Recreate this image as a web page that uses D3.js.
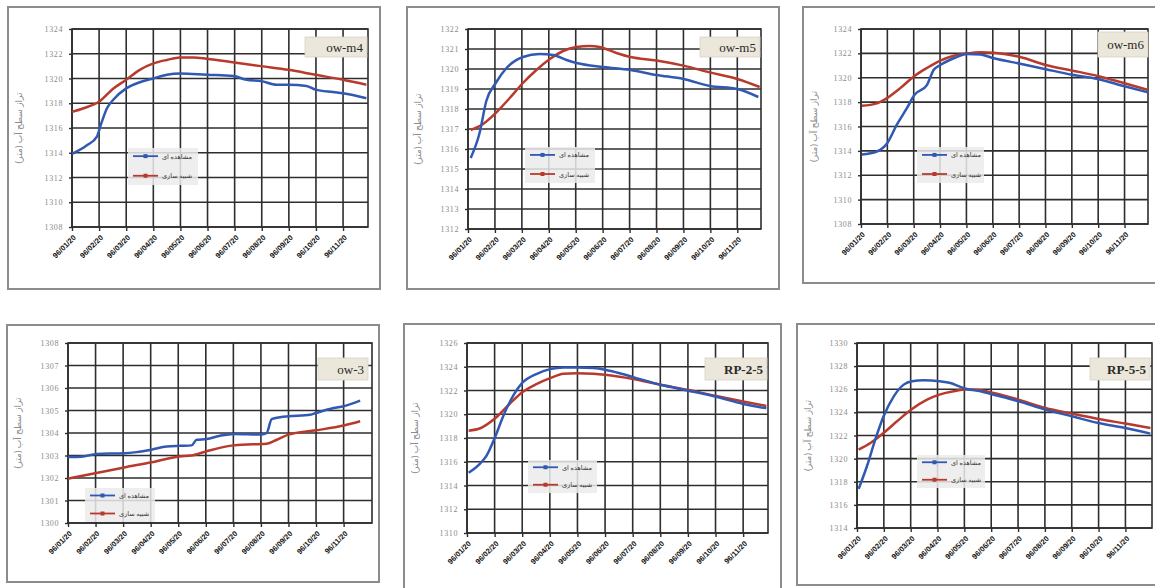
<!DOCTYPE html>
<html>
<head>
<meta charset="utf-8">
<script src="https://cdn.jsdelivr.net/npm/d3@7"></script>
<style>
  body { margin: 0; background: #fff; }
  svg { display: block; }
</style>
</head>
<body>
<svg id="chart" width="1155" height="588"></svg>
<script>
// Tick labels shared by every panel (Persian calendar dates)
const dateLabels = ["96/01/20", "96/02/20", "96/03/20", "96/04/20", "96/05/20", "96/06/20",
                    "96/07/20", "96/08/20", "96/09/20", "96/10/20", "96/11/20"];
const seriesNames = ["مشاهده ای", "شبیه سازی"];
const yAxisTitle = "تراز سطح آب (متر)";
const wellNames = ["ow-m4", "ow-m5", "ow-m6", "ow-3", "RP-2-5", "RP-5-5"];

// Time in months from 96/01/20, and water level (m) — observed / simulated
const owM4ObsT = [0, 0.55, 0.92, 1.04, 1.29, 1.53, 2.0, 2.5, 2.98, 3.5, 3.99, 4.97, 5.95, 6.44, 6.97, 7.55, 7.99, 8.65, 8.98, 9.63, 10.0, 10.86];
const owM4Obs  = [1313.9, 1314.6, 1315.3, 1316.1, 1317.6, 1318.3, 1319.2, 1319.7, 1320.0, 1320.3, 1320.4, 1320.3, 1320.2, 1319.9, 1319.8, 1319.5, 1319.5, 1319.4, 1319.1, 1318.9, 1318.8, 1318.4];
const owM4SimT = [0, 0.43, 0.98, 1.53, 2.0, 2.5, 2.98, 3.5, 3.99, 4.48, 4.97, 5.99, 6.97, 7.99, 8.98, 10.0, 10.86];
const owM4Sim  = [1317.3, 1317.6, 1318.1, 1319.2, 1319.9, 1320.7, 1321.2, 1321.5, 1321.7, 1321.7, 1321.6, 1321.3, 1321.0, 1320.7, 1320.3, 1319.9, 1319.5];

const owM5ObsT = [0.1, 0.43, 0.68, 1.03, 1.43, 2.04, 2.66, 3.16, 3.66, 4.03, 5.04, 6.03, 7.0, 8.0, 8.98, 10.0, 10.78];
const owM5Obs  = [1315.55, 1316.8, 1318.4, 1319.3, 1320.05, 1320.6, 1320.75, 1320.7, 1320.45, 1320.3, 1320.1, 1319.95, 1319.7, 1319.5, 1319.15, 1319.0, 1318.6];
const owM5SimT = [0.1, 0.56, 1.03, 1.55, 2.04, 2.54, 3.04, 3.53, 4.03, 4.52, 4.89, 5.51, 6.03, 7.0, 8.0, 8.98, 10.0, 10.83];
const owM5Sim  = [1316.95, 1317.25, 1317.8, 1318.55, 1319.3, 1319.95, 1320.5, 1320.9, 1321.1, 1321.15, 1321.1, 1320.8, 1320.6, 1320.43, 1320.17, 1319.83, 1319.5, 1319.1];

const owM6ObsT = [0.03, 0.6, 1.0, 1.36, 1.74, 2.03, 2.5, 2.76, 3.01, 3.52, 4.03, 4.54, 5.04, 6.04, 7.01, 8.0, 8.98, 10.0, 10.89];
const owM6Obs  = [1313.7, 1313.95, 1314.65, 1316.15, 1317.5, 1318.6, 1319.4, 1320.65, 1321.05, 1321.6, 1321.95, 1321.9, 1321.6, 1321.15, 1320.7, 1320.25, 1319.9, 1319.3, 1318.8];
const owM6SimT = [0.03, 0.6, 1.0, 1.49, 2.03, 2.5, 3.01, 3.52, 4.03, 4.54, 5.04, 6.04, 7.01, 8.0, 8.98, 10.0, 10.89];
const owM6Sim  = [1317.7, 1317.9, 1318.35, 1319.15, 1320.15, 1320.8, 1321.4, 1321.8, 1322.0, 1322.1, 1322.05, 1321.7, 1321.05, 1320.6, 1320.15, 1319.55, 1319.0];

const ow3ObsT = [0, 0.55, 1.03, 2.04, 2.48, 3.03, 3.58, 4.06, 4.48, 4.67, 5.03, 5.52, 6.02, 7.03, 7.21, 7.39, 7.7, 8.0, 8.79, 9.0, 9.64, 10.0, 10.6];
const ow3Obs  = [1302.93, 1302.96, 1303.07, 1303.1, 1303.15, 1303.26, 1303.4, 1303.43, 1303.45, 1303.7, 1303.73, 1303.88, 1303.96, 1303.93, 1304.0, 1304.62, 1304.7, 1304.74, 1304.81, 1304.89, 1305.11, 1305.19, 1305.44];
const ow3SimT = [0, 1.03, 2.04, 3.03, 4.04, 4.48, 5.03, 6.02, 7.03, 7.21, 7.58, 8.0, 9.0, 10.0, 10.6];
const ow3Sim  = [1301.97, 1302.22, 1302.47, 1302.7, 1302.96, 1303.0, 1303.19, 1303.45, 1303.51, 1303.52, 1303.7, 1303.93, 1304.12, 1304.33, 1304.52];

const rp25ObsT = [0.06, 0.48, 0.72, 1.02, 1.33, 1.69, 1.99, 2.53, 3.01, 3.49, 3.98, 4.58, 5.0, 5.42, 6.02, 7.01, 7.98, 8.98, 10.0, 10.84];
const rp25Obs  = [1315.07, 1315.86, 1316.56, 1318.1, 1319.94, 1321.63, 1322.62, 1323.41, 1323.8, 1323.94, 1323.94, 1323.89, 1323.75, 1323.52, 1323.13, 1322.48, 1322.0, 1321.49, 1320.87, 1320.5];
const rp25SimT = [0.06, 0.48, 1.02, 1.57, 1.99, 2.53, 3.01, 3.49, 3.98, 4.58, 5.0, 6.02, 7.01, 7.98, 8.98, 10.0, 10.84];
const rp25Sim  = [1318.62, 1318.82, 1319.66, 1320.93, 1321.83, 1322.56, 1323.04, 1323.41, 1323.46, 1323.41, 1323.32, 1322.96, 1322.48, 1322.06, 1321.55, 1321.07, 1320.7];

const rp55ObsT = [0.06, 0.37, 0.68, 0.99, 1.37, 1.74, 2.05, 2.48, 3.07, 3.48, 3.85, 4.1, 4.6, 5.09, 6.02, 7.02, 8.01, 9.0, 10.0, 10.93];
const rp55Obs  = [1317.38, 1319.34, 1321.64, 1323.66, 1325.39, 1326.4, 1326.69, 1326.77, 1326.69, 1326.54, 1326.2, 1326.02, 1325.82, 1325.53, 1324.96, 1324.24, 1323.66, 1323.08, 1322.65, 1322.16];
const rp55SimT = [0.06, 0.5, 0.99, 1.49, 2.05, 2.61, 3.07, 3.6, 4.1, 4.6, 5.09, 6.02, 7.02, 8.01, 9.0, 10.0, 10.93];
const rp55Sim  = [1320.78, 1321.35, 1322.22, 1323.23, 1324.29, 1325.1, 1325.53, 1325.82, 1325.97, 1325.91, 1325.68, 1325.1, 1324.38, 1323.89, 1323.43, 1323.03, 1322.65];

// Y-axis tick values for each well
const owM4Ticks = d3.range(1308, 1325, 2);
const owM5Ticks = d3.range(1312, 1323, 1);
const owM6Ticks = d3.range(1308, 1325, 2);
const ow3Ticks  = d3.range(1300, 1309, 1);
const rp25Ticks = d3.range(1310, 1327, 2);
const rp55Ticks = d3.range(1314, 1331, 2);

const zip = (t, v) => t.map((d, i) => ({ t: d, v: v[i] }));

// Panel layout: outer frame, plot area, end of time axis, title badge and legend box
const panels = [
  { name: wellNames[0], ticks: owM4Ticks, obs: zip(owM4ObsT, owM4Obs), sim: zip(owM4SimT, owM4Sim),
    frame: [8, 7, 380, 289], plot: [72, 29, 368, 227], tMax: 10.92,
    badge: [305, 37, 367, 57], legend: [128, 148, 198, 185] },
  { name: wellNames[1], ticks: owM5Ticks, obs: zip(owM5ObsT, owM5Obs), sim: zip(owM5SimT, owM5Sim),
    frame: [407, 7, 779, 289], plot: [468, 29, 761, 229], tMax: 10.88,
    badge: [700, 37, 760, 57], legend: [525, 147, 595, 183] },
  { name: wellNames[2], ticks: owM6Ticks, obs: zip(owM6ObsT, owM6Obs), sim: zip(owM6SimT, owM6Sim),
    frame: [803, 7, 1162, 283], plot: [861, 29, 1148, 224], tMax: 10.89,
    badge: [1098, 32, 1148, 57], legend: [917, 147, 984, 183] },
  { name: wellNames[3], ticks: ow3Ticks, obs: zip(ow3ObsT, ow3Obs), sim: zip(ow3SimT, ow3Sim),
    frame: [7, 325, 379, 582], plot: [68, 343, 372, 523], tMax: 11.03,
    badge: [318, 358, 368, 380], legend: [85, 488, 155, 522] },
  { name: wellNames[4], ticks: rp25Ticks, obs: zip(rp25ObsT, rp25Obs), sim: zip(rp25SimT, rp25Sim),
    frame: [404, 324, 781, 592], plot: [467, 343, 768, 533], tMax: 10.9,
    badge: [705, 358, 767, 380], legend: [528, 460, 597, 493] },
  { name: wellNames[5], ticks: rp55Ticks, obs: zip(rp55ObsT, rp55Obs), sim: zip(rp55SimT, rp55Sim),
    frame: [797, 324, 1162, 585], plot: [857, 343, 1152, 528], tMax: 10.99,
    badge: [1090, 358, 1150, 380], legend: [917, 455, 985, 488] }
];

const colObs = "#3159b3";
const colSim = "#b83a2c";
const gridCol = "#2e2e2e";

const svg = d3.select("#chart");

panels.forEach(p => {
  const [fx0, fy0, fx1, fy1] = p.frame;
  const [px0, py0, px1, py1] = p.plot;
  const g = svg.append("g");

  g.append("rect")
    .attr("x", fx0).attr("y", fy0).attr("width", fx1 - fx0).attr("height", fy1 - fy0)
    .attr("fill", "#fff").attr("stroke", "#8c8c8c").attr("stroke-width", 2);

  const x = d3.scaleLinear().domain([0, p.tMax]).range([px0, px1]);
  const y = d3.scaleLinear().domain([p.ticks[0], p.ticks[p.ticks.length - 1]]).range([py1, py0]);
  const monthTicks = d3.range(dateLabels.length);

  // grid
  g.append("g").selectAll("line").data(monthTicks).join("line")
    .attr("x1", d => x(d)).attr("x2", d => x(d)).attr("y1", py0).attr("y2", py1)
    .attr("stroke", gridCol).attr("stroke-width", 1.6);
  g.append("g").selectAll("line").data(p.ticks).join("line")
    .attr("x1", px0).attr("x2", px1).attr("y1", d => y(d)).attr("y2", d => y(d))
    .attr("stroke", gridCol).attr("stroke-width", 1.6);
  g.append("rect")
    .attr("x", px0).attr("y", py0).attr("width", px1 - px0).attr("height", py1 - py0)
    .attr("fill", "none").attr("stroke", gridCol).attr("stroke-width", 1.6);

  // y axis
  const ya = g.append("g").attr("transform", `translate(${px0},0)`)
    .call(d3.axisLeft(y).tickValues(p.ticks).tickSize(3).tickPadding(6).tickFormat(d3.format("d")));
  ya.select(".domain").remove();
  ya.selectAll("line").attr("stroke", gridCol).attr("stroke-width", 1.4);
  ya.selectAll("text").attr("fill", "#8a8a8a").attr("font-size", 8)
    .attr("font-family", "Liberation Serif, serif").attr("letter-spacing", 0.6);

  // x axis
  const xa = g.append("g").attr("transform", `translate(0,${py1})`)
    .call(d3.axisBottom(x).tickValues(monthTicks).tickSize(4).tickFormat(i => dateLabels[i]));
  xa.select(".domain").remove();
  xa.selectAll("line").attr("stroke", gridCol).attr("stroke-width", 1.4);
  xa.selectAll("text")
    .attr("font-size", 7.5).attr("font-weight", "bold").attr("fill", "#111")
    .attr("font-family", "Liberation Sans, Arial, sans-serif")
    .attr("text-anchor", "end").attr("dy", 0).attr("y", 0)
    .attr("transform", "translate(4,11) rotate(-45)");

  // y title
  g.append("text")
    .attr("transform", `translate(${fx0 + 14},${(py0 + py1) / 2}) rotate(-90)`)
    .attr("text-anchor", "middle").attr("font-size", 9).attr("fill", "#8a8a8a")
    .attr("font-family", "Noto Sans, DejaVu Sans, sans-serif")
    .text(yAxisTitle);

  // series
  const line = d3.line().x(d => x(d.t)).y(d => y(d.v)).curve(d3.curveMonotoneX);
  g.append("path").datum(p.sim).attr("d", line)
    .attr("fill", "none").attr("stroke", colSim).attr("stroke-width", 2.5).attr("stroke-linejoin", "round");
  g.append("path").datum(p.obs).attr("d", line)
    .attr("fill", "none").attr("stroke", colObs).attr("stroke-width", 2.5).attr("stroke-linejoin", "round");

  // title badge
  const [bx0, by0, bx1, by1] = p.badge;
  g.append("rect").attr("x", bx0).attr("y", by0).attr("width", bx1 - bx0).attr("height", by1 - by0)
    .attr("fill", "#ebe7da").attr("stroke", "#d8d3c4").attr("stroke-width", 0.8);
  g.append("text").attr("x", bx1 - 4).attr("y", (by0 + by1) / 2 + 4.5)
    .attr("text-anchor", "end").attr("font-size", 13).attr("fill", "#2a2a2a")
    .attr("font-family", "Liberation Serif, serif")
    .attr("font-weight", p.name.startsWith("RP") ? "bold" : "normal")
    .text(p.name);

  // legend
  const [lx0, ly0, lx1, ly1] = p.legend;
  const lg = g.append("g");
  lg.append("rect").attr("x", lx0).attr("y", ly0).attr("width", lx1 - lx0).attr("height", ly1 - ly0)
    .attr("fill", "#ebebeb").attr("opacity", 0.85);
  [colObs, colSim].forEach((c, i) => {
    const ly = ly0 + (ly1 - ly0) * (i === 0 ? 0.22 : 0.75);
    lg.append("line").attr("x1", lx0 + 5).attr("x2", lx0 + 30).attr("y1", ly).attr("y2", ly)
      .attr("stroke", c).attr("stroke-width", 1.8);
    lg.append("rect").attr("x", lx0 + 15.5).attr("y", ly - 2).attr("width", 4).attr("height", 4).attr("fill", c);
    lg.append("text").attr("x", lx0 + 34).attr("y", ly + 2.5).attr("font-size", 6.5).attr("fill", "#333")
      .attr("font-family", "Noto Sans, DejaVu Sans, sans-serif").text(seriesNames[i]);
  });
});
</script>
</body>
</html>
